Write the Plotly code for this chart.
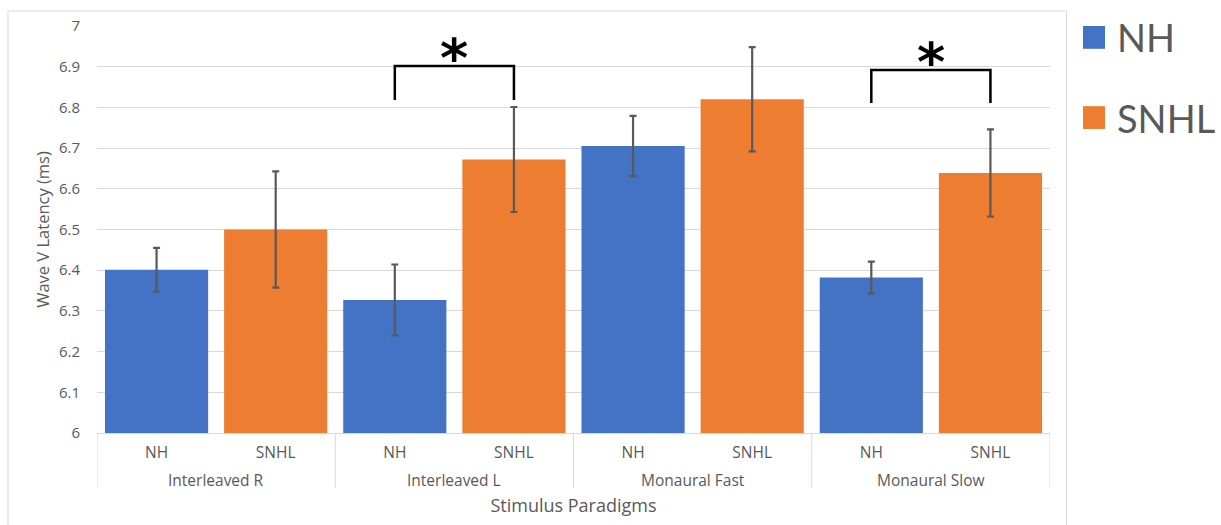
import plotly.graph_objects as go

# Wave V latency by stimulus paradigm and hearing group
paradigms = ["Interleaved R", "Interleaved L", "Monaural Fast", "Monaural Slow"]
groups = ["NH", "SNHL"]
nh_mean = [6.401, 6.327, 6.705, 6.382]
nh_err = [0.054, 0.087, 0.074, 0.039]
snhl_mean = [6.500, 6.672, 6.820, 6.639]
snhl_err = [0.143, 0.129, 0.128, 0.107]

# significant pairs: (paradigm index, bracket top, bracket foot)
sig_pairs = [(1, 6.902, 6.818), (3, 6.892, 6.811)]

BLUE = "#4472C4"
ORANGE = "#ED7D31"
GRAY = "#595959"
LIGHT = "#D9D9D9"
FONT = "Open Sans"
KEY_FONT = "Lato"
colors = {"NH": BLUE, "SNHL": ORANGE}
BAR_WIDTH = 0.866

n_groups = len(groups)
n_slots = len(paradigms) * n_groups


def slot(p_idx, g_idx):
    """Position of a bar on the x axis: paradigms side by side, groups within."""
    return p_idx * n_groups + g_idx


fig = go.Figure()
for g_idx, (name, means, errs) in enumerate(
        [("NH", nh_mean, nh_err), ("SNHL", snhl_mean, snhl_err)]):
    fig.add_trace(go.Bar(
        name=name,
        x=[slot(p, g_idx) for p in range(len(paradigms))],
        y=means,
        width=BAR_WIDTH,
        marker=dict(color=colors[name], line=dict(width=0)),
        error_y=dict(type="data", array=errs, visible=True,
                     color=GRAY, thickness=2.2, width=3.5),
        showlegend=False,
    ))

shapes = []
annotations = []

# paradigm labels under the group labels, with divider lines between paradigms
for p_idx, label in enumerate(paradigms):
    annotations.append(dict(
        x=slot(p_idx, 0) + (n_groups - 1) / 2, y=-0.1155,
        xref="x", yref="paper", yanchor="middle", showarrow=False,
        text=label, font=dict(family=FONT, size=15.5, color=GRAY),
    ))
for b in range(len(paradigms) + 1):
    xb = b * n_groups - 0.5
    shapes.append(dict(
        type="line", xref="x", yref="paper",
        x0=xb, x1=xb, y0=0, y1=-0.135,
        line=dict(color=LIGHT, width=1),
    ))

# significance brackets
for idx, top, foot in sig_pairs:
    xl = slot(idx, 0)
    xr = slot(idx, 1)
    shapes.append(dict(
        type="path", xref="x", yref="y",
        path=f"M {xl},{foot} L {xl},{top} L {xr},{top} L {xr},{foot}",
        line=dict(color="black", width=2.5),
    ))
    annotations.append(dict(
        x=(xl + xr) / 2, y=top, xref="x", yref="y",
        text="<b>*</b>", showarrow=False, yanchor="bottom",
        font=dict(family="DejaVu Sans", size=54, color="black"),
        yshift=-26,
    ))

# key for the two hearing groups, placed right of the plot
for i, name in enumerate(groups):
    top = 1.0 - i * 0.197
    shapes.append(dict(
        type="rect", xref="paper", yref="paper",
        x0=1.0346, x1=1.0577, y0=top - 0.056, y1=top,
        line=dict(width=0), fillcolor=colors[name],
    ))
    annotations.append(dict(
        x=1.0685, y=top - 0.028, xref="paper", yref="paper",
        xanchor="left", yanchor="middle", showarrow=False,
        text=name, font=dict(family=KEY_FONT, size=38, color=GRAY),
    ))

# outer chart frame
shapes.append(dict(
    type="rect", xref="paper", yref="paper",
    x0=-0.0934, x1=1.0173, y0=-0.3, y1=1.0369,
    line=dict(color=LIGHT, width=1), fillcolor="rgba(0,0,0,0)", layer="below",
))

fig.update_layout(
    width=1221, height=525,
    margin=dict(l=97, r=171, t=26, b=92),
    paper_bgcolor="white", plot_bgcolor="white",
    barmode="overlay",
    font=dict(family=FONT, color=GRAY),
    shapes=shapes,
    annotations=annotations,
    xaxis=dict(
        range=[-0.5, n_slots - 0.5],
        tickmode="array",
        tickvals=list(range(n_slots)),
        ticktext=[groups[i % n_groups] for i in range(n_slots)],
        showline=True, linecolor=LIGHT, linewidth=1,
        ticks="", ticklabelstandoff=5,
        tickfont=dict(size=15.5, color=GRAY),
        showgrid=False, zeroline=False,
        title=dict(text="Stimulus Paradigms", font=dict(size=18, color=GRAY), standoff=37),
    ),
    yaxis=dict(
        range=[6, 7], dtick=0.1, tick0=6,
        showgrid=True, gridcolor=LIGHT, gridwidth=1,
        zeroline=False, showline=False,
        tickfont=dict(size=15, color=GRAY),
        ticklabelstandoff=16,
        title=dict(text="Wave V Latency (ms)", font=dict(size=16.5, color=GRAY), standoff=5),
    ),
)

fig.write_html("out.html")
